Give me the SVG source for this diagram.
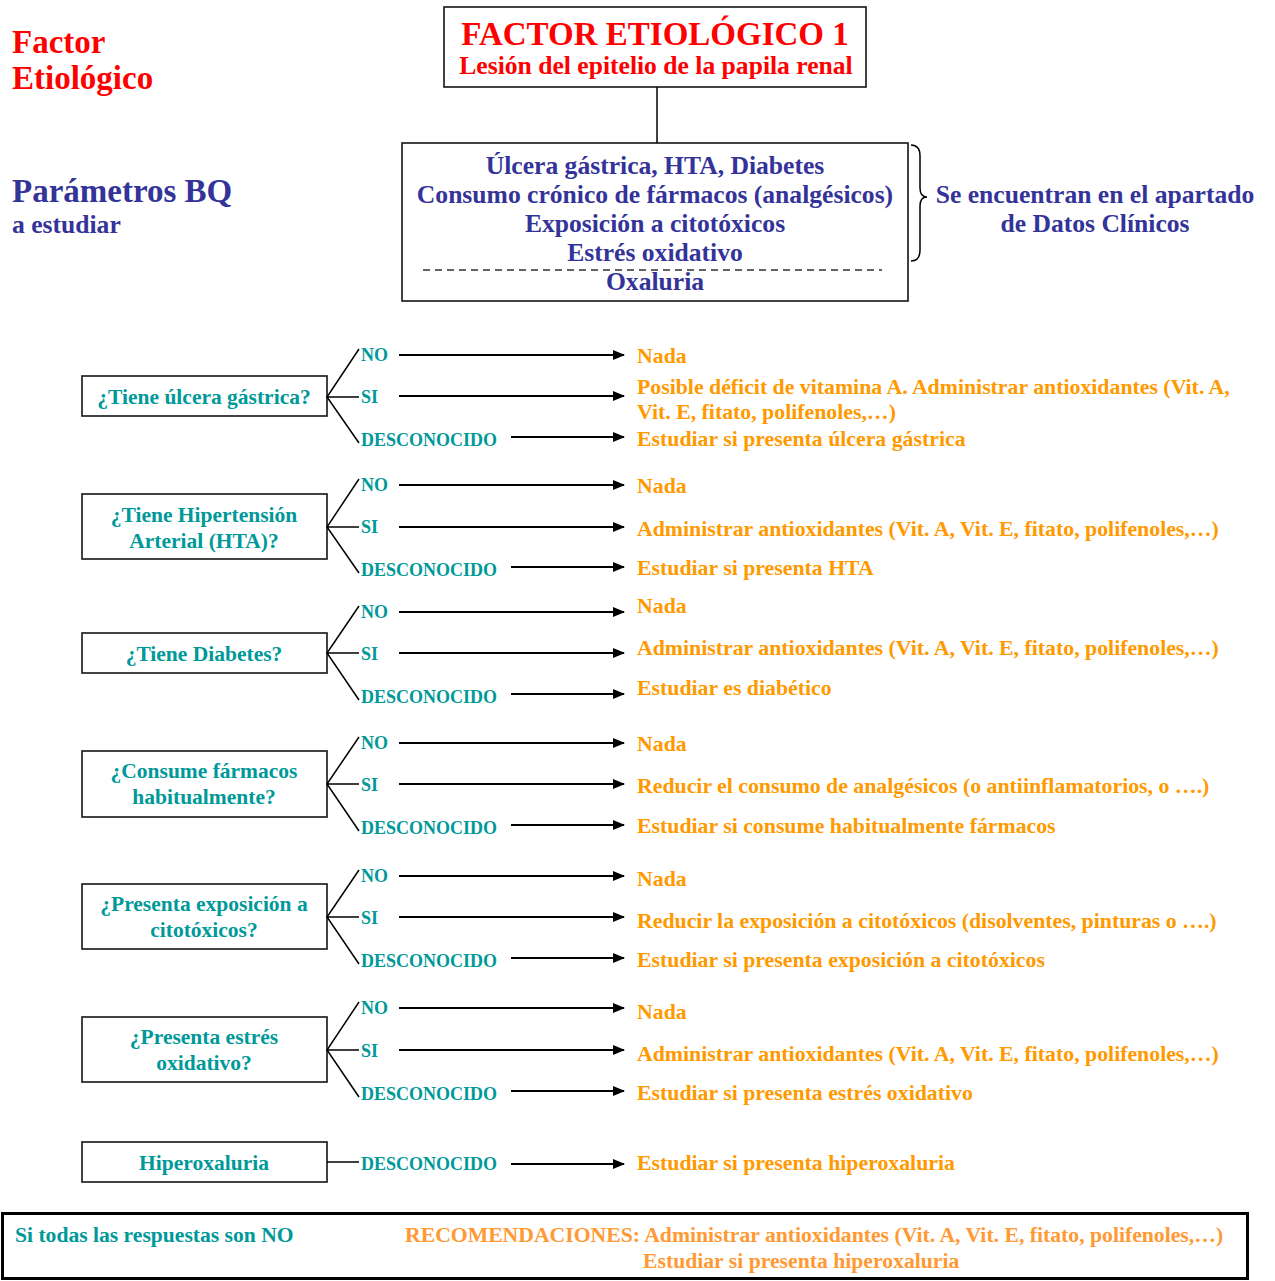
<svg xmlns="http://www.w3.org/2000/svg" width="1275" height="1281" viewBox="0 0 1275 1281">
<style>
text{font-family:"Liberation Serif","Times New Roman",serif;font-weight:bold}
.red{fill:#FF0000}
.navy{fill:#333399}
.teal{fill:#009999}
.or{fill:#FF9900}
.or2{fill:#FF9933}
.t32{font-size:33px}
.t25{font-size:25.6px}
.q{font-size:21.5px;text-anchor:middle;fill:#009999}
.lab{font-size:18px;fill:#009999}
.res{font-size:21.8px;fill:#FF9900}
.box{fill:#fff;stroke:#222;stroke-width:1.7}
.fan{fill:none;stroke:#000;stroke-width:1.5}
.arr{stroke:#000;stroke-width:2;marker-end:url(#ah)}
.mid{text-anchor:middle}
</style>
<defs>
<marker id="ah" markerWidth="12" markerHeight="10" refX="11" refY="5" orient="auto" markerUnits="userSpaceOnUse">
<path d="M0,0 L12,5 L0,10 Z" fill="#000"/>
</marker>
</defs>
<rect width="1275" height="1281" fill="#fff"/>

<g id="side-labels">
<text x="12" y="53" class="red t32">Factor</text>
<text x="12" y="89" class="red t32">Etiológico</text>
<text x="12" y="202" class="navy t32">Parámetros BQ</text>
<text x="12" y="233" class="navy t25">a estudiar</text>
</g>

<g id="factor">
<rect x="444" y="7" width="422" height="80" class="box"/>
<text x="655" y="45" class="red t32 mid">FACTOR ETIOLÓGICO 1</text>
<text x="656" y="74" class="red t25 mid">Lesión del epitelio de la papila renal</text>
</g>

<g id="params">
<rect x="402" y="143" width="506" height="158" class="box"/>
<text x="655" y="174" class="navy t25 mid">Úlcera gástrica, HTA, Diabetes</text>
<text x="655" y="203" class="navy t25 mid">Consumo crónico de fármacos (analgésicos)</text>
<text x="655" y="232" class="navy t25 mid">Exposición a citotóxicos</text>
<text x="655" y="261" class="navy t25 mid">Estrés oxidativo</text>
<line x1="423" y1="270" x2="882" y2="270" stroke="#333" stroke-width="1.5" stroke-dasharray="7,5"/>
<text x="655" y="290" class="navy t25 mid">Oxaluria</text>
</g>

<g id="note">
<path d="M911,145 Q920,145 920,156 L920,188 Q920,197 927,197 Q920,197 920,206 L920,250 Q920,261 911,261" fill="none" stroke="#000" stroke-width="1.5"/>
<text x="1095" y="203" class="navy t25 mid">Se encuentran en el apartado</text>
<text x="1095" y="232" class="navy t25 mid">de Datos Clínicos</text>
</g>

<g id="q1">
<rect x="82" y="376" width="245" height="40" class="box"/>
<text x="204" y="404" class="q">¿Tiene úlcera gástrica?</text>
</g>
<g id="q2">
<rect x="82" y="494" width="245" height="65" class="box"/>
<text x="204" y="522" class="q">¿Tiene Hipertensión</text>
<text x="204" y="548" class="q">Arterial (HTA)?</text>
</g>
<g id="q3">
<rect x="82" y="633" width="245" height="40" class="box"/>
<text x="204" y="661" class="q">¿Tiene Diabetes?</text>
</g>
<g id="q4">
<rect x="82" y="751" width="245" height="66" class="box"/>
<text x="204" y="778" class="q">¿Consume fármacos</text>
<text x="204" y="804" class="q">habitualmente?</text>
</g>
<g id="q5">
<rect x="82" y="884" width="245" height="65" class="box"/>
<text x="204" y="911" class="q">¿Presenta exposición a</text>
<text x="204" y="937" class="q">citotóxicos?</text>
</g>
<g id="q6">
<rect x="82" y="1017" width="245" height="65" class="box"/>
<text x="204" y="1044" class="q">¿Presenta estrés</text>
<text x="204" y="1070" class="q">oxidativo?</text>
</g>
<g id="q7">
<rect x="82" y="1142" width="245" height="40" class="box"/>
<text x="204" y="1170" class="q">Hiperoxaluria</text>
</g>

<g id="connectors">
<line x1="657" y1="87" x2="657" y2="143" stroke="#000" stroke-width="1.5"/>
<path class="fan" d="M359,349 L327,397 L359,443 M327,397 L359,397"/>
<line class="arr" x1="399" y1="355" x2="624" y2="355"/>
<line class="arr" x1="399" y1="396" x2="624" y2="396"/>
<line class="arr" x1="511" y1="437" x2="624" y2="437"/>
<path class="fan" d="M359,479 L327,527 L359,573 M327,527 L359,527"/>
<line class="arr" x1="399" y1="485" x2="624" y2="485"/>
<line class="arr" x1="399" y1="527" x2="624" y2="527"/>
<line class="arr" x1="511" y1="567" x2="624" y2="567"/>
<path class="fan" d="M359,606 L327,653 L359,700 M327,653 L359,653"/>
<line class="arr" x1="399" y1="612" x2="624" y2="612"/>
<line class="arr" x1="399" y1="653" x2="624" y2="653"/>
<line class="arr" x1="511" y1="694" x2="624" y2="694"/>
<path class="fan" d="M359,737 L327,784 L359,831 M327,784 L359,784"/>
<line class="arr" x1="399" y1="743" x2="624" y2="743"/>
<line class="arr" x1="399" y1="784" x2="624" y2="784"/>
<line class="arr" x1="511" y1="825" x2="624" y2="825"/>
<path class="fan" d="M359,870 L327,917 L359,964 M327,917 L359,917"/>
<line class="arr" x1="399" y1="876" x2="624" y2="876"/>
<line class="arr" x1="399" y1="917" x2="624" y2="917"/>
<line class="arr" x1="511" y1="958" x2="624" y2="958"/>
<path class="fan" d="M359,1002 L327,1050 L359,1097 M327,1050 L359,1050"/>
<line class="arr" x1="399" y1="1008" x2="624" y2="1008"/>
<line class="arr" x1="399" y1="1050" x2="624" y2="1050"/>
<line class="arr" x1="511" y1="1091" x2="624" y2="1091"/>
<line class="fan" x1="327" y1="1162" x2="359" y2="1162"/>
<line class="arr" x1="511" y1="1164" x2="624" y2="1164"/>
</g>

<g id="labels">
<text x="361" y="361" class="lab">NO</text>
<text x="361" y="403" class="lab">SI</text>
<text x="361" y="446" class="lab">DESCONOCIDO</text>
<text x="361" y="491" class="lab">NO</text>
<text x="361" y="533" class="lab">SI</text>
<text x="361" y="576" class="lab">DESCONOCIDO</text>
<text x="361" y="618" class="lab">NO</text>
<text x="361" y="660" class="lab">SI</text>
<text x="361" y="703" class="lab">DESCONOCIDO</text>
<text x="361" y="749" class="lab">NO</text>
<text x="361" y="791" class="lab">SI</text>
<text x="361" y="834" class="lab">DESCONOCIDO</text>
<text x="361" y="882" class="lab">NO</text>
<text x="361" y="924" class="lab">SI</text>
<text x="361" y="967" class="lab">DESCONOCIDO</text>
<text x="361" y="1014" class="lab">NO</text>
<text x="361" y="1057" class="lab">SI</text>
<text x="361" y="1100" class="lab">DESCONOCIDO</text>
<text x="361" y="1170" class="lab">DESCONOCIDO</text>
</g>

<g id="results">
<text x="637" y="363" class="res">Nada</text>
<text x="637" y="394" class="res">Posible déficit de vitamina A. Administrar antioxidantes (Vit. A,</text>
<text x="637" y="419" class="res">Vit. E, fitato, polifenoles,…)</text>
<text x="637" y="446" class="res">Estudiar si presenta úlcera gástrica</text>
<text x="637" y="493" class="res">Nada</text>
<text x="637" y="536" class="res">Administrar antioxidantes (Vit. A, Vit. E, fitato, polifenoles,…)</text>
<text x="637" y="575" class="res">Estudiar si presenta HTA</text>
<text x="637" y="613" class="res">Nada</text>
<text x="637" y="655" class="res">Administrar antioxidantes (Vit. A, Vit. E, fitato, polifenoles,…)</text>
<text x="637" y="695" class="res">Estudiar es diabético</text>
<text x="637" y="751" class="res">Nada</text>
<text x="637" y="793" class="res">Reducir el consumo de analgésicos (o antiinflamatorios, o ….)</text>
<text x="637" y="833" class="res">Estudiar si consume habitualmente fármacos</text>
<text x="637" y="886" class="res">Nada</text>
<text x="637" y="928" class="res">Reducir la exposición a citotóxicos (disolventes, pinturas o ….)</text>
<text x="637" y="967" class="res">Estudiar si presenta exposición a citotóxicos</text>
<text x="637" y="1019" class="res">Nada</text>
<text x="637" y="1061" class="res">Administrar antioxidantes (Vit. A, Vit. E, fitato, polifenoles,…)</text>
<text x="637" y="1100" class="res">Estudiar si presenta estrés oxidativo</text>
<text x="637" y="1170" class="res">Estudiar si presenta hiperoxaluria</text>
</g>

<g id="summary">
<rect x="2.5" y="1213.5" width="1245" height="65" fill="#fff" stroke="#000" stroke-width="3"/>
<text x="15" y="1242" class="teal" font-size="21.6">Si todas las respuestas son NO</text>
<text x="405" y="1242" class="or2" font-size="21.7">RECOMENDACIONES: Administrar antioxidantes (Vit. A, Vit. E, fitato, polifenoles,…)</text>
<text x="643" y="1268" class="or2" font-size="21.7">Estudiar si presenta hiperoxaluria</text>
</g>
</svg>
